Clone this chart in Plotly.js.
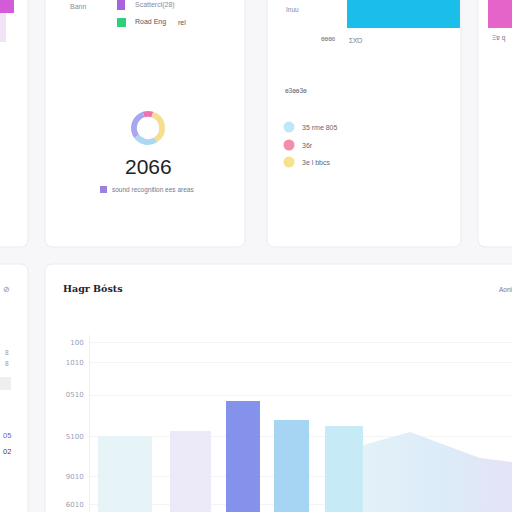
<!DOCTYPE html>
<html><head><meta charset="utf-8">
<script src="https://cdn.plot.ly/plotly-3.0.1.min.js"></script>
<style>html,body{margin:0;padding:0;background:#f7f7f9;}#chart{width:512px;height:512px;}</style>
</head><body><div id="chart"></div>
<script>
// ---- data ----
const barCategories = ['A', 'B', 'C', 'D', 'E'];
const barValues = [42.9, 45.8, 62.7, 52.0, 48.6];
const areaX = [5.32, 6.18, 6.81, 7.45, 8.03];
const areaValues = [37.9, 45.2, 37.9, 30.5, 28.2];
const yTickValues = [95.5, 84.2, 66.1, 42.9, 20.3, 4.0];
const yTickLabels = ['100', '1010', '0510', '5100', '9010', '6010'];
const donutLabels = ['pink', 'yellow', 'light blue', 'lavender'];
const donutValues = [10, 36, 24, 30];
const topBarValues = [140];
const rightBarValues = [140];
const leftBarValues = [140];

// ---- styles / positions ----
const barPos = [1.0, 2.19, 3.14, 4.02, 4.98];
const barWidth = [0.98, 0.75, 0.62, 0.64, 0.69];
const barColors = ['#e6f4f8', '#ece9f8', '#8592eb', '#a5d5f3', '#c6ebf6'];
const donutColors = ['#ee72b0', '#f4df8f', '#aad8f2', '#a9a6f0'];

const W = 512;
const X = p => p / W, Y = p => 1 - p / W;
function rr(x0, y0, x1, y1, r) {
  const a = X(x0), b = X(x1), c = Y(y0), d = Y(y1), k = r / W;
  return `M ${a+k} ${c} L ${b-k} ${c} Q ${b} ${c} ${b} ${c-k} L ${b} ${d+k} Q ${b} ${d} ${b-k} ${d} L ${a+k} ${d} Q ${a} ${d} ${a} ${d+k} L ${a} ${c-k} Q ${a} ${c} ${a+k} ${c} Z`;
}
const card = (x0, y0, x1, y1) => ({type: 'path', xref: 'paper', yref: 'paper', path: rr(x0, y0, x1, y1, 8),
  fillcolor: '#ffffff', line: {color: '#ebebef', width: 1}, layer: 'below'});
const sq = (x0, y0, x1, y1, c) => ({type: 'rect', xref: 'paper', yref: 'paper', x0: X(x0), x1: X(x1), y0: Y(y1), y1: Y(y0),
  fillcolor: c, line: {width: 0}, layer: 'above'});
const circ = (cx, cy, r, c) => ({type: 'circle', xref: 'paper', yref: 'paper', x0: X(cx - r), x1: X(cx + r), y0: Y(cy + r), y1: Y(cy - r),
  fillcolor: c, line: {width: 0}, layer: 'above'});
const txt = (x, y, t, size, color, anchor, extra) => Object.assign({xref: 'paper', yref: 'paper', x: X(x), y: Y(y), text: t,
  showarrow: false, xanchor: anchor || 'left', yanchor: 'middle',
  font: {family: 'Liberation Sans, Arial, sans-serif', size: size, color: color}}, extra || {});

const traces = [
  {type: 'scatter', x: areaX, y: areaValues, mode: 'lines', fill: 'tozeroy', line: {width: 0, color: '#dcecf7'},
   fillgradient: {type: 'horizontal', colorscale: [[0, '#e3f1f8'], [0.5, '#dcecf8'], [1, '#e4e3f7']]},
   xaxis: 'x', yaxis: 'y', hoverinfo: 'skip'},
  {type: 'bar', x: barPos, y: barValues, width: barWidth, text: barCategories, textposition: 'none',
   marker: {color: barColors, line: {width: 0}}, xaxis: 'x', yaxis: 'y', hoverinfo: 'skip'},
  {type: 'bar', x: ['top'], y: topBarValues, width: [1], marker: {color: '#19bee9'}, xaxis: 'x2', yaxis: 'y2', hoverinfo: 'skip'},
  {type: 'bar', x: ['right'], y: rightBarValues, width: [1], marker: {color: '#e464c9'}, xaxis: 'x3', yaxis: 'y3', hoverinfo: 'skip'},
  {type: 'bar', x: ['left'], y: leftBarValues, width: [1], marker: {color: '#d45bd8'}, xaxis: 'x4', yaxis: 'y4', hoverinfo: 'skip'},
  {type: 'pie', labels: donutLabels, values: donutValues, hole: 0.66, sort: false, direction: 'clockwise', rotation: -18,
   marker: {colors: donutColors, line: {width: 0}}, textinfo: 'none', hoverinfo: 'skip',
   domain: {x: [X(131), X(165)], y: [Y(145), Y(111)]}}
];

const hidden = {showgrid: false, zeroline: false, showticklabels: false, showline: false, fixedrange: true};
const layout = {
  width: 512, height: 512, margin: {l: 0, r: 0, t: 0, b: 0},
  paper_bgcolor: '#f7f7f9', plot_bgcolor: 'rgba(0,0,0,0)', showlegend: false, bargap: 0,
  xaxis: Object.assign({}, hidden, {domain: [X(90), 1], range: [0.36, 8.03]}),
  yaxis: {domain: [0, Y(335)], range: [0, 100], tickvals: yTickValues, ticktext: yTickLabels,
    showgrid: true, gridcolor: '#f4f4f7', gridwidth: 1, zeroline: false, showline: true, linecolor: '#efeff3',
    ticks: '', tickfont: {family: 'DejaVu Sans, sans-serif', size: 7, color: '#9b9db9'}, ticklabelstandoff: 4},
  xaxis2: Object.assign({}, hidden, {domain: [X(347), X(460)], anchor: 'y2'}),
  yaxis2: Object.assign({}, hidden, {domain: [Y(28), 1], range: [0, 100], anchor: 'x2'}),
  xaxis3: Object.assign({}, hidden, {domain: [X(488), 1], anchor: 'y3'}),
  yaxis3: Object.assign({}, hidden, {domain: [Y(28), 1], range: [0, 100], anchor: 'x3'}),
  xaxis4: Object.assign({}, hidden, {domain: [0, X(14)], anchor: 'y4'}),
  yaxis4: Object.assign({}, hidden, {domain: [Y(13), 1], range: [0, 100], anchor: 'x4'}),
  shapes: [
    card(-20, -20, 28, 247), card(45, -20, 245, 247), card(267, -20, 461, 247), card(478, -20, 540, 247),
    card(-20, 264, 28, 540), card(45, 264, 540, 540),
    {type: 'rect', xref: 'paper', yref: 'paper', x0: 0, x1: X(6), y0: Y(42), y1: Y(13), fillcolor: '#f1e3f6', line: {width: 0}, layer: 'above'},
    {type: 'rect', xref: 'paper', yref: 'paper', x0: 0, x1: X(11), y0: Y(390), y1: Y(377), fillcolor: '#efeff2', line: {width: 0}, layer: 'above'},
    sq(117, -2, 125, 10, '#a862df'), sq(117, 18, 126, 27, '#2fcf7c'),
    sq(100, 186, 107, 193, '#9a80e1'),
    circ(289, 127, 5.5, '#c0e7f6'), circ(289, 145, 5.5, '#f28dac'), circ(289, 162, 5.5, '#f6e28d')
  ],
  annotations: [
    txt(68, 6, 'Bann', 7, '#8a8a98'),
    txt(133, 5, 'Scattercl(28)', 7, '#8a8a98'),
    txt(133, 22, 'Road Eng', 7, '#555562'),
    txt(176, 22, 'rel', 7, '#555562'),
    txt(148, 166, '2066', 21, '#222228', 'center'),
    txt(110, 190, 'sound recognition ees areas', 6.5, '#77778a'),
    txt(284, 9, 'Inuu', 6.5, '#8a8a98'),
    txt(338, 38, 'ɵɵɵɞ', 6.5, '#777785', 'right'),
    txt(347, 40, 'ΣΧΌ', 6.5, '#777785'),
    txt(490, 38, 'Ξɐ q', 6.5, '#777785'),
    txt(283, 90, 'ɵ3ɵɵ3ɵ', 6.5, '#666672'),
    txt(300, 127, '35 rme 805', 7, '#666672'),
    txt(300, 145, '36r', 7, '#666672'),
    txt(300, 162, '3e l bbcs', 7, '#666672'),
    txt(61, 288, 'Hagr Bósts', 10, '#222228', 'left', {font: {family: 'DejaVu Serif, serif', size: 9.5, color: '#222228', weight: 'bold'}}),
    txt(497, 289, 'Aoni', 6.5, '#77778a'),
    txt(6, 289, '⊘', 8, '#8a8a98', 'center'),
    txt(7, 352, '8', 6.5, '#9a9aa8', 'center'),
    txt(7, 363, '8', 6.5, '#9a9aa8', 'center'),
    txt(7, 435, '05', 7.5, '#6a5fd6', 'center'),
    txt(7, 451, '02', 7.5, '#444450', 'center')
  ]
};
Plotly.newPlot('chart', traces, layout, {staticPlot: true, displayModeBar: false});
</script></body></html>
